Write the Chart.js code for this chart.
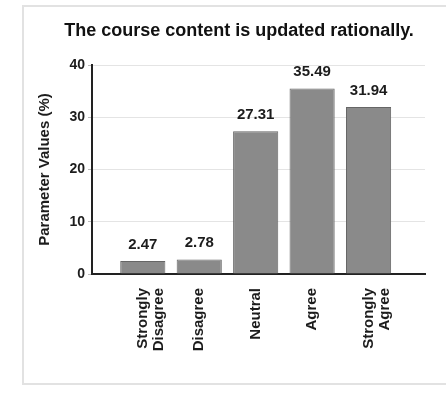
<!DOCTYPE html>
<html>
<head>
<meta charset="utf-8">
<script src="https://cdn.jsdelivr.net/npm/chart.js@4/dist/chart.umd.min.js"></script>
<style>
    html, body { margin: 0; padding: 0; background: #fff; }
    #frame {
        position: absolute; left: 22px; top: 5px; width: 440px; height: 376px;
        border: 2px solid #e2e2e2; border-right: none;
    }
    #grafico { position: absolute; left: 0; top: 0; }
</style>
</head>
<body>
<div id="frame"></div>
<canvas id="grafico" width="446" height="394"></canvas>
<script>
const tituloGrafico = 'The course content is updated rationally.';
const categorias = [['Strongly', 'Disagree'], 'Disagree', 'Neutral', 'Agree', ['Strongly', 'Agree']];
const valores = [2.47, 2.78, 27.31, 35.49, 31.94];
const ticksY = [0, 10, 20, 30, 40];

const fonte = "'Liberation Sans', Arial, sans-serif";
const corTexto = '#1c1c1c';

// rótulos de valor em cima de cada barra
const rotulosBarras = {
    id: 'rotulosBarras',
    afterDatasetsDraw(chart) {
        const ctx = chart.ctx;
        const meta = chart.getDatasetMeta(0);
        ctx.save();
        ctx.font = `bold 15px ${fonte}`;
        ctx.fillStyle = corTexto;
        ctx.textAlign = 'center';
        ctx.textBaseline = 'bottom';
        meta.data.forEach((barra, i) => {
            ctx.fillText(valores[i].toFixed(2), barra.x, barra.y - 9);
        });
        ctx.restore();
    }
};

// título desenhado à mão para ficar na mesma posição da figura
const tituloTopo = {
    id: 'tituloTopo',
    afterDraw(chart) {
        const ctx = chart.ctx;
        ctx.save();
        ctx.font = `bold 18px ${fonte}`;
        ctx.fillStyle = '#111';
        ctx.textAlign = 'center';
        ctx.textBaseline = 'middle';
        ctx.fillText(tituloGrafico, 239, 31);
        ctx.restore();
    }
};

new Chart(document.getElementById('grafico'), {
    type: 'bar',
    data: {
        datasets: [{
            data: valores.map((v, i) => ({ x: i, y: v })),
            backgroundColor: '#8a8a8a',
            borderColor: '#666',
            borderWidth: 1,
            barPercentage: 0.8,
            categoryPercentage: 1
        }]
    },
    options: {
        responsive: false,
        animation: false,
        layout: { padding: { top: 65, left: 36, right: 21, bottom: 0 } },
        plugins: {
            legend: { display: false },
            tooltip: { enabled: false }
        },
        scales: {
            x: {
                type: 'linear',
                min: -0.9,
                max: 5.0,
                offset: false,
                afterBuildTicks: s => { s.ticks = categorias.map((c, i) => ({ value: i })); },
                afterFit: s => { s.height = 120; },
                grid: { display: false, drawTicks: false },
                border: { display: true, color: '#222', width: 2 },
                ticks: {
                    autoSkip: false,
                    minRotation: 90,
                    maxRotation: 90,
                    padding: 14,
                    color: corTexto,
                    font: { family: fonte, size: 15, weight: 'bold', lineHeight: 1.1 },
                    callback: v => categorias[v]
                }
            },
            y: {
                min: 0,
                max: 40,
                afterBuildTicks: s => { s.ticks = ticksY.map(v => ({ value: v })); },
                afterFit: s => { s.width = 56; },
                grid: { color: '#e4e4e4', tickLength: 4, tickColor: '#bbb' },
                border: { display: true, color: '#222', width: 2 },
                ticks: {
                    padding: 3,
                    color: corTexto,
                    font: { family: fonte, size: 14, weight: 'bold' }
                },
                title: {
                    display: true,
                    text: 'Parameter Values (%)',
                    color: corTexto,
                    font: { family: fonte, size: 15, weight: 'bold' },
                    padding: { top: 0, bottom: 4 }
                }
            }
        }
    },
    plugins: [rotulosBarras, tituloTopo]
});
</script>
</body>
</html>
